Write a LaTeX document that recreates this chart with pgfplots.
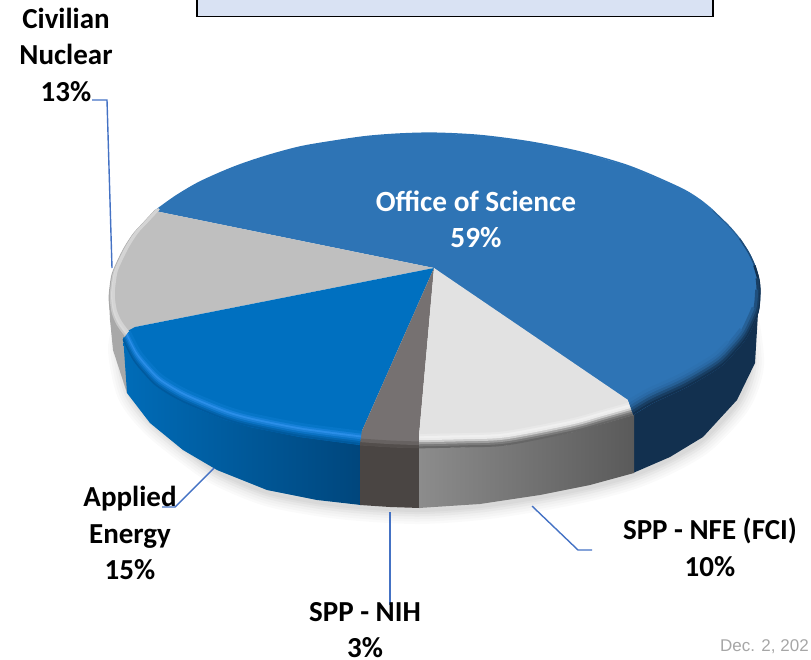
\documentclass[border=0pt]{standalone}
\usepackage{pgfplots}
\pgfplotsset{compat=1.18}
\usepackage{pgfplotstable}
\usepackage{fontspec}
\setmainfont{Carlito}
\newfontfamily\arialf{Liberation Sans}
\definecolor{cOff}{HTML}{2E74B5}
\definecolor{cOffS}{HTML}{12304F}
\definecolor{cNFE}{HTML}{E2E2E2}
\definecolor{cNIH}{HTML}{767171}
\definecolor{cApp}{HTML}{0070C0}
\definecolor{cCiv}{HTML}{BFBFBF}
\definecolor{lead}{HTML}{4472C4}
\definecolor{cBox}{HTML}{D9E2F3}
\definecolor{HTMLAL}{HTML}{006CB8}
\definecolor{HTMLAR}{HTML}{00467C}
\definecolor{HTMLN}{HTML}{4A4543}
\definecolor{HTMLFL}{HTML}{8C8C8C}
\definecolor{HTMLFR}{HTML}{5A5A5A}
\definecolor{HTMLB1}{HTML}{005A9E}
\definecolor{HTMLB2}{HTML}{0A72C4}
\definecolor{HTMLB3}{HTML}{2A8EE8}
\definecolor{HTMLB4}{HTML}{1580D8}
\definecolor{HTMLB5}{HTML}{0676C8}
\pgfplotstableread{
x y
434 268
155 211
176 196
200 182
233 167.5
265 156.5
300 147
335 141
367 136.5
400 134
435 133.2
480 135.5
530 142
580 152
630 166.5
680 188
700 200
713 210.5
729 226
740 239
749 253
755 266
759 280
760 293
758 313
747 337
735 352
720 367
687 387
653 403
633 415
}\tOff
\pgfplotstableread{
x y
434 268
155 211
143 224
133 235
124 249
117 263
112 275
110 287
109 300
111 315
116 327
124 338
135 327
}\tCiv
\pgfplotstableread{
x y
434 268
135 327
124 333
123 340
133 360
145 375
157 387
178 400
200 410
225 420
250 427
300 437
360 445
361 433
}\tApp
\pgfplotstableread{
x y
434 268
361 433
360 445
390 447
419 448
419 436
}\tNIH
\pgfplotstableread{
x y
434 268
419 436
419 448
465 447
507 445
573 432
605 423
633 415
628 400
}\tNFE
\pgfplotstableread{
x y
128 325
122 350
131 393
154 423
187 450
219 472
267 492
317 502
360 507
419 510
480 506
540 497
590 487
633 475
670 459
703 439
737 402
750 365
745 320
}\tShadow
\newcommand\band[6]{% table, skipA, skipB(end), s, colour, width
\addplot[forget plot,no marks,smooth,draw=#5,line width=#6pt,line cap=butt,
  skip coords between index={0}{#2},skip coords between index={#3}{999}]
  table[x expr={435+(\thisrow{x}-435)*(1-(1-#4)*0.5)},y expr={133+(\thisrow{y}-133)*#4}] {#1};}
\newcommand\shad[2]{\addplot[forget plot,no marks,smooth,draw=black!#1,line width=#2pt,line cap=round] table {\tShadow};}
\newcommand\lab[3]{\node[font=\bfseries\fontsize{29}{36.5}\selectfont,align=center,text=black,anchor=center] at (axis cs:#1,#2) {#3};}
\begin{document}
\begin{tikzpicture}
\path[clip,use as bounding box] (0,0) rectangle (811pt,659pt);
\begin{axis}[at={(0,0)},anchor=south west,scale only axis,width=811pt,height=659pt,
  xmin=0,xmax=811,ymin=0,ymax=659,y dir=reverse,hide axis,clip=false]
% header box
\addplot[forget plot,fill=cBox,draw=black,line width=1.5pt] coordinates {(197,-6)(713,-6)(713,16.5)(197,16.5)} --cycle;
% shadow
\shad{2}{28}
\shad{4}{23}
\shad{6}{18}
\shad{9}{13}
\shad{12}{8}
\shad{15}{4}
% sides
\addplot[forget plot,fill=cOffS,draw=none] coordinates {(625,410)(653,395)(687,380)(720,360)(747,330)(756,300)(760,293)(758,313)(755,363)(737,400)(703,437)(670,457)(633,473)} --cycle;
\addplot[forget plot,fill=black!34,draw=none] coordinates {(109,300)(140,330)(127,393)(113,350)(110,320)} --cycle;
\addplot[forget plot,draw=none,left color=HTMLAL,right color=HTMLAR] coordinates {(123,335)(133,355)(157,380)(200,400)(250,420)(300,430)(361,440)(361,505)(317,500)(267,490)(217,470)(183,450)(150,423)(127,393)} --cycle;
\addplot[forget plot,fill=HTMLN,draw=none] coordinates {(360,440)(420,440)(420,508)(390,507)(360,505)} --cycle;
\addplot[forget plot,draw=none,left color=HTMLFL,right color=HTMLFR] coordinates {(419,440)(507,440)(573,428)(634,410)(634,473)(590,485)(540,495)(480,504)(419,508)} --cycle;
% tops
\addplot[forget plot,fill=cOff,draw=none] table {\tOff} --cycle;
\addplot[forget plot,fill=cCiv,draw=none] table {\tCiv} --cycle;
\addplot[forget plot,fill=cApp,draw=none] table {\tApp} --cycle;
\addplot[forget plot,fill=cNIH,draw=none] table {\tNIH} --cycle;
\addplot[forget plot,fill=cNFE,draw=none] table {\tNFE} --cycle;
% bevels
\band{\tOff}{1}{18}{0.998}{cOff}{1.5}
\band{\tOff}{17}{31}{0.998}{cOffS!30!cOff}{1.2}
\band{\tOff}{19}{31}{0.998}{cOffS!60!cOff}{1.4}
\band{\tOff}{21}{31}{0.996}{cOffS}{2.4}
\band{\tOff}{22}{31}{0.988}{cOffS!80!cOff}{3}
\band{\tOff}{23}{31}{0.979}{cOffS!55!cOff}{3}
\band{\tOff}{24}{31}{0.970}{cOffS!30!cOff}{3}
\band{\tOff}{25}{31}{0.961}{cOffS!14!cOff}{3}
\band{\tOff}{26}{31}{0.952}{cOffS!5!cOff}{3}
\band{\tCiv}{1}{12}{0.995}{black!34}{2.4}
\band{\tCiv}{1}{12}{0.988}{black!22}{2.4}
\band{\tCiv}{1}{12}{0.980}{black!15}{2.4}
\band{\tCiv}{1}{12}{0.972}{black!17}{2.4}
\band{\tApp}{3}{13}{0.995}{HTMLB1}{2.8}
\band{\tApp}{3}{13}{0.989}{HTMLB1!60!HTMLB2}{2.8}
\band{\tApp}{3}{13}{0.983}{HTMLB2}{2.8}
\band{\tApp}{3}{13}{0.977}{HTMLB2!50!HTMLB3}{2.8}
\band{\tApp}{3}{13}{0.971}{HTMLB3}{2.8}
\band{\tApp}{3}{13}{0.965}{HTMLB4}{2.8}
\band{\tApp}{3}{13}{0.959}{HTMLB5}{2.8}
\band{\tNIH}{2}{5}{0.995}{HTMLN!80!cNIH}{3.6}
\band{\tNIH}{2}{5}{0.985}{HTMLN!35!cNIH}{3.6}
\band{\tNFE}{2}{8}{0.997}{black!60}{2.6}
\band{\tNFE}{2}{8}{0.9905}{black!52}{2.6}
\band{\tNFE}{2}{8}{0.984}{black!38}{2.6}
\band{\tNFE}{2}{8}{0.9775}{black!20}{2.6}
\band{\tNFE}{2}{8}{0.971}{black!8}{2.6}
\band{\tNFE}{2}{8}{0.9645}{black!6}{2.6}
\band{\tNFE}{2}{8}{0.958}{black!9}{2.6}
\band{\tNFE}{2}{8}{0.951}{cNFE}{2.6}
% leaders
\addplot[forget plot,draw=lead,line width=1.4pt] coordinates {(92,100)(107,100)(112,268)};
\addplot[forget plot,draw=lead,line width=1.4pt] coordinates {(214,468)(175,507)(162,507)};
\addplot[forget plot,draw=lead,line width=1.4pt] coordinates {(390,512)(390,605)};
\addplot[forget plot,draw=lead,line width=1.4pt] coordinates {(532,506)(578,550)(592,550)};
% labels
\lab{66}{54.5}{Civilian\\Nuclear\\13\%}
\lab{130}{533}{Applied\\Energy\\15\%}
\lab{365}{630}{SPP - NIH\\3\%}
\lab{710}{547.5}{SPP - NFE (FCI)\\10\%}
\node[font=\bfseries\fontsize{29.3}{36.5}\selectfont,align=center,text=white] at (axis cs:476,219.5) {Office of Science\\59\%};
\node[font=\arialf\fontsize{17}{20}\selectfont,text=black!35,anchor=base west,inner sep=0pt] at (axis cs:720,651) {Dec. 2, 202};
\end{axis}
\end{tikzpicture}
\end{document}
